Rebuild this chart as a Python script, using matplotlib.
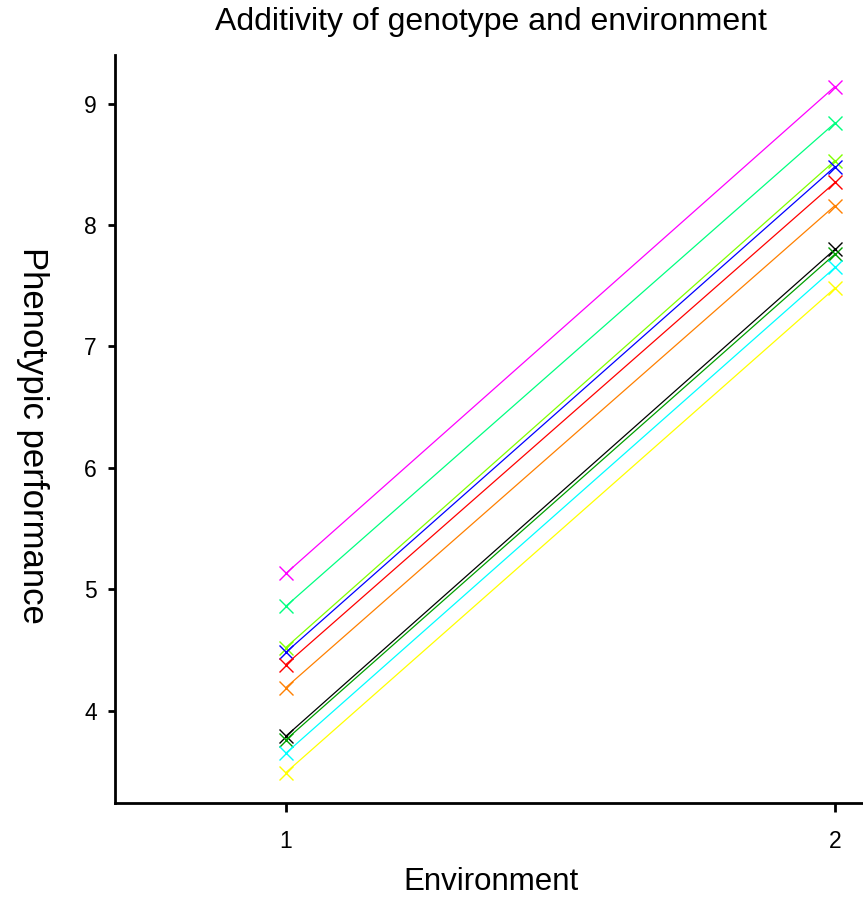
import matplotlib
matplotlib.use("Agg")
import matplotlib.pyplot as plt

environments = [1, 2]
genotype_colors = ["#ff00ff", "#00ff80", "#80ff00", "#0000ff", "#ff0000",
                   "#ff8000", "#000000", "#00a000", "#00ffff", "#ffff00"]
env1_values = [5.13, 4.86, 4.52, 4.48, 4.38, 4.19, 3.79, 3.76, 3.65, 3.49]
env2_values = [9.14, 8.84, 8.53, 8.48, 8.35, 8.16, 7.80, 7.76, 7.65, 7.48]
x_ticks = [1, 2]
y_ticks = [4, 5, 6, 7, 8, 9]

W, H = 863, 901
fig = plt.figure(figsize=(W / 100, H / 100), dpi=100)
ax = fig.add_axes([0.1333, 0.1088, 0.8667, 0.8302])

for c, a, b in zip(genotype_colors, env1_values, env2_values):
    ax.plot(environments, [a, b], color=c, lw=0.9, marker="x", ms=10, mew=1.0)

ax.set_xlim(0.689, 2.051)
ax.set_ylim(3.24, 9.40)
ax.set_xticks(x_ticks)
ax.set_yticks(y_ticks)
ax.set_xticklabels([str(t) for t in x_ticks], family="Liberation Sans", fontsize=16.5)
ax.set_yticklabels([str(t) for t in y_ticks], family="Liberation Sans", fontsize=16.5)
ax.tick_params(axis="x", direction="out", length=6.5, width=2, pad=13)
ax.tick_params(axis="y", direction="out", length=5, width=2, pad=8)
for s in ["top", "right"]:
    ax.spines[s].set_visible(False)
for s in ["left", "bottom"]:
    ax.spines[s].set_linewidth(2)

fig.text(491 / W, 1 - 882 / H, "Environment", family="Liberation Sans",
         fontsize=22.5, ha="center", va="center")
fig.text(32 / W, 1 - 435 / H, "Phenotypic performance", family="Liberation Sans",
         fontsize=25, rotation=270, ha="center", va="center")
fig.text(491 / W, 1 - 22 / H, "Additivity of genotype and environment",
         family="Liberation Sans", fontsize=23, ha="center", va="center")

fig.savefig("out.png", dpi=100)
